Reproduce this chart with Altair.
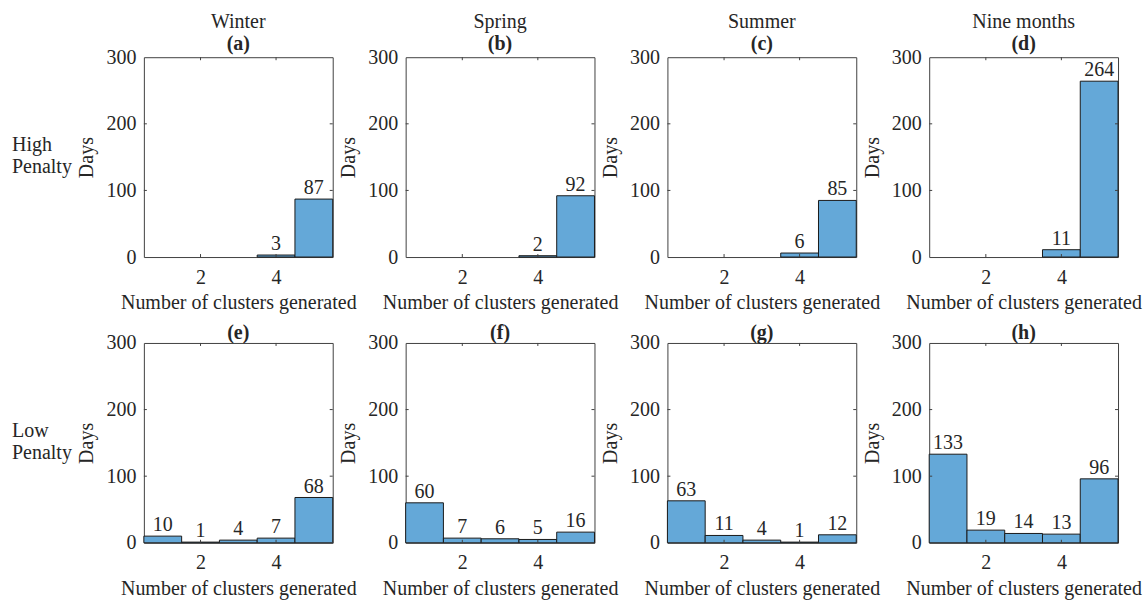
import altair as alt
import pandas as pd

CLUSTERS = [1, 2, 3, 4, 5]
COLUMNS = ["Winter", "Spring", "Summer", "Nine months"]
ROWS = ["High Penalty", "Low Penalty"]
LETTERS = [["(a)", "(b)", "(c)", "(d)"], ["(e)", "(f)", "(g)", "(h)"]]

HIGH_WINTER = [0, 0, 0, 3, 87]
HIGH_SPRING = [0, 0, 0, 2, 92]
HIGH_SUMMER = [0, 0, 0, 6, 85]
HIGH_NINE = [0, 0, 0, 11, 264]
LOW_WINTER = [10, 1, 4, 7, 68]
LOW_SPRING = [60, 7, 6, 5, 16]
LOW_SUMMER = [63, 11, 4, 1, 12]
LOW_NINE = [133, 19, 14, 13, 96]

DATA = [[HIGH_WINTER, HIGH_SPRING, HIGH_SUMMER, HIGH_NINE],
        [LOW_WINTER, LOW_SPRING, LOW_SUMMER, LOW_NINE]]

X_TICKS = [2, 4]
Y_TICKS = [0, 100, 200, 300]
INNER_Y_TICKS = [100, 200]

W, H = 189, 200
FONT = "Liberation Serif"
BAR = "#64a8d8"
INK = "#262626"
FRAME = "#404040"

xscale = alt.Scale(domain=[0.5, 5.5], nice=False, zero=False)
yscale = alt.Scale(domain=[0, 300], nice=False)

XAXIS = alt.Axis(values=X_TICKS, title="Number of clusters generated", grid=False,
                 domain=False, ticks=False, labelPadding=10, titlePadding=6,
                 labelFontSize=20, titleFontSize=20, labelFont=FONT, titleFont=FONT,
                 titleFontWeight="normal", labelColor=INK, titleColor=INK)
YAXIS = alt.Axis(values=Y_TICKS, title="Days", grid=False, domain=False, ticks=False,
                 labelPadding=8, titlePadding=9, labelFontSize=20, titleFontSize=20,
                 labelFont=FONT, titleFont=FONT, titleFontWeight="normal",
                 labelColor=INK, titleColor=INK)


def panel(vals, r, c):
    df = pd.DataFrame({"k": CLUSTERS, "days": vals})
    df = df[df.days > 0].copy()
    df["x0"] = df.k - 0.5
    df["x1"] = df.k + 0.5
    df["label"] = df.days.astype(str)

    bars = alt.Chart(df).mark_rect(color=BAR, stroke="#1a1a1a", strokeWidth=1, opacity=1).encode(
        x=alt.X("x0:Q", scale=xscale, axis=XAXIS),
        x2="x1:Q",
        y=alt.Y("days:Q", scale=yscale, axis=YAXIS),
        y2=alt.datum(0),
    )
    labels = alt.Chart(df).mark_text(baseline="bottom", dy=-1, font=FONT, fontSize=20, color=INK).encode(
        x=alt.X("k:Q", scale=xscale, axis=XAXIS),
        y=alt.Y("days:Q", scale=yscale, axis=YAXIS),
        text="label:N",
    )
    ydf = pd.DataFrame({"t": INNER_Y_TICKS})
    xdf = pd.DataFrame({"t": X_TICKS})
    yl = alt.Chart(ydf).mark_rule(color=FRAME, strokeWidth=1).encode(
        y=alt.Y("t:Q", scale=yscale, axis=YAXIS), x=alt.value(0), x2=alt.value(3))
    yr = alt.Chart(ydf).mark_rule(color=FRAME, strokeWidth=1).encode(
        y=alt.Y("t:Q", scale=yscale, axis=YAXIS), x=alt.value(W - 3), x2=alt.value(W))
    xb = alt.Chart(xdf).mark_rule(color=FRAME, strokeWidth=1).encode(
        x=alt.X("t:Q", scale=xscale, axis=XAXIS), y=alt.value(H), y2=alt.value(H - 3))
    xt = alt.Chart(xdf).mark_rule(color=FRAME, strokeWidth=1).encode(
        x=alt.X("t:Q", scale=xscale, axis=XAXIS), y=alt.value(0), y2=alt.value(3))

    layers = [bars, labels, yl, yr, xb, xt]
    if c == 0:
        words = ROWS[r].split(" ")
        rowlab = alt.Chart(pd.DataFrame({"a": [0]})).mark_text(
            align="left", baseline="middle", font=FONT, fontSize=20, color=INK, lineHeight=22).encode(
            x=alt.value(-132), y=alt.value(88), text=alt.value(words))
        layers.append(rowlab)

    if r == 0:
        title = alt.TitleParams(text=COLUMNS[c], subtitle=LETTERS[r][c], font=FONT, fontSize=20,
                                fontWeight="normal", color=INK, subtitleFont=FONT, subtitleFontSize=20,
                                subtitleFontWeight="bold", subtitleColor=INK, subtitlePadding=2,
                                offset=-7, anchor="middle")
    else:
        title = alt.TitleParams(text=LETTERS[r][c], font=FONT, fontSize=20, fontWeight="bold",
                                color=INK, offset=-10, anchor="middle")
    return alt.layer(*layers).properties(width=W, height=H, title=title)


panels = [panel(DATA[r][c], r, c) for r in range(2) for c in range(4)]

chart = alt.concat(*panels, columns=4, spacing=alt.RowColnumber(row=86, column=73),
                   bounds="flush").configure_view(
    stroke=FRAME, strokeWidth=1).properties(padding={"left": 11, "top": 11, "right": 5, "bottom": 5},
                                            background="white")

chart.save("out.html", embed_options={"renderer": "svg", "actions": False})
